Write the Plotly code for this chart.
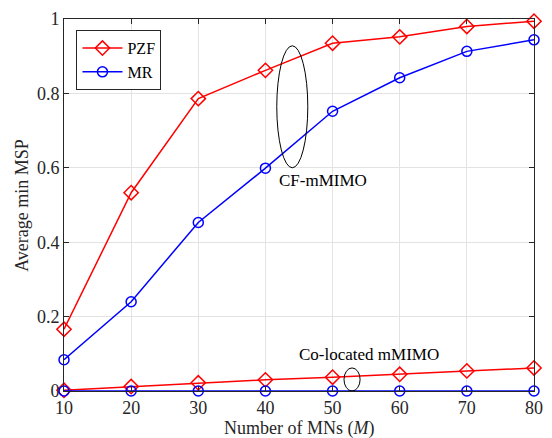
import plotly.graph_objects as go

M = [10, 20, 30, 40, 50, 60, 70, 80]
cf_pzf = [0.166, 0.533, 0.786, 0.862, 0.935, 0.952, 0.980, 0.994]
cf_mr = [0.084, 0.240, 0.453, 0.599, 0.752, 0.842, 0.913, 0.944]
co_pzf = [0.002, 0.012, 0.022, 0.030, 0.037, 0.045, 0.054, 0.062]
co_mr = [0.0, 0.0, 0.0, 0.0, 0.0, 0.0, 0.0, 0.0]

x_ticks = [10, 20, 30, 40, 50, 60, 70, 80]
y_ticks = [0, 0.2, 0.4, 0.6, 0.8, 1]
y_tick_text = ["0", "0.2", "0.4", "0.6", "0.8", "1"]

FONT = "Liberation Serif"
RED = "#ff0000"
BLUE = "#0000ff"
TXT = "#262626"

fig = go.Figure()

def add(y, color, symbol, name, show):
    fig.add_trace(go.Scatter(
        x=M, y=y, mode="lines+markers", name=name, showlegend=show,
        line=dict(color=color, width=1.5),
        marker=dict(symbol=symbol, size=11 if "diamond" in symbol else 10,
                    color=color, line=dict(color=color, width=1.5)),
        cliponaxis=False,
    ))

add(cf_pzf, RED, "diamond-open", "PZF", True)
add(cf_mr, BLUE, "circle-open", "MR", True)
add(co_pzf, RED, "diamond-open", "PZF", False)
add(co_mr, BLUE, "circle-open", "MR", False)

# ellipses
fig.add_shape(type="circle", xref="x", yref="y", x0=44.0 - 2.31, x1=44.0 + 2.31,
              y0=0.764 - 0.164, y1=0.764 + 0.164, line=dict(color="black", width=1))
fig.add_shape(type="circle", xref="x", yref="y", x0=52.9 - 1.2, x1=52.9 + 1.2,
              y0=0.031 - 0.031, y1=0.031 + 0.031, line=dict(color="black", width=1))

fig.add_annotation(x=48.5, y=0.566, text="CF-mMIMO", showarrow=False,
                   font=dict(family=FONT, size=17, color="black"))
fig.add_annotation(x=55.4, y=0.098, text="Co-located mMIMO", showarrow=False,
                   font=dict(family=FONT, size=17, color="black"))

# axis titles
fig.add_annotation(xref="paper", yref="paper", x=0.5, y=-0.1, yanchor="middle",
                   text="Number of MNs (<i>M</i>)", showarrow=False,
                   font=dict(family=FONT, size=18, color=TXT))
fig.add_annotation(xref="paper", yref="paper", x=-0.0898, y=0.5, xanchor="center",
                   yanchor="middle", textangle=-90,
                   text="Average min MSP", showarrow=False,
                   font=dict(family=FONT, size=18, color=TXT))

axis_common = dict(showline=True, linecolor=TXT, linewidth=1, mirror="ticks",
                   ticks="inside", ticklen=5, tickcolor=TXT,
                   showgrid=True, gridcolor="#e3e3e3", gridwidth=1, zeroline=False,
                   tickfont=dict(family=FONT, size=18, color=TXT))

fig.update_xaxes(range=[10, 80], tickvals=x_ticks, **axis_common)
fig.update_yaxes(range=[0, 1], tickvals=y_ticks, ticktext=y_tick_text, **axis_common)

fig.update_layout(
    width=552, height=438,
    margin=dict(l=64, r=9, t=14, b=47),
    plot_bgcolor="white", paper_bgcolor="white",
    legend=dict(x=0.0265, y=0.97, xanchor="left", yanchor="top",
                bgcolor="white", bordercolor=TXT, borderwidth=1,
                font=dict(family=FONT, size=16, color="black"),
                tracegroupgap=0, itemwidth=40),
    showlegend=True,
)

fig.write_html("out.html", config={"displayModeBar": False},
               post_script="document.body.style.margin='0';document.body.style.overflow='hidden';")
